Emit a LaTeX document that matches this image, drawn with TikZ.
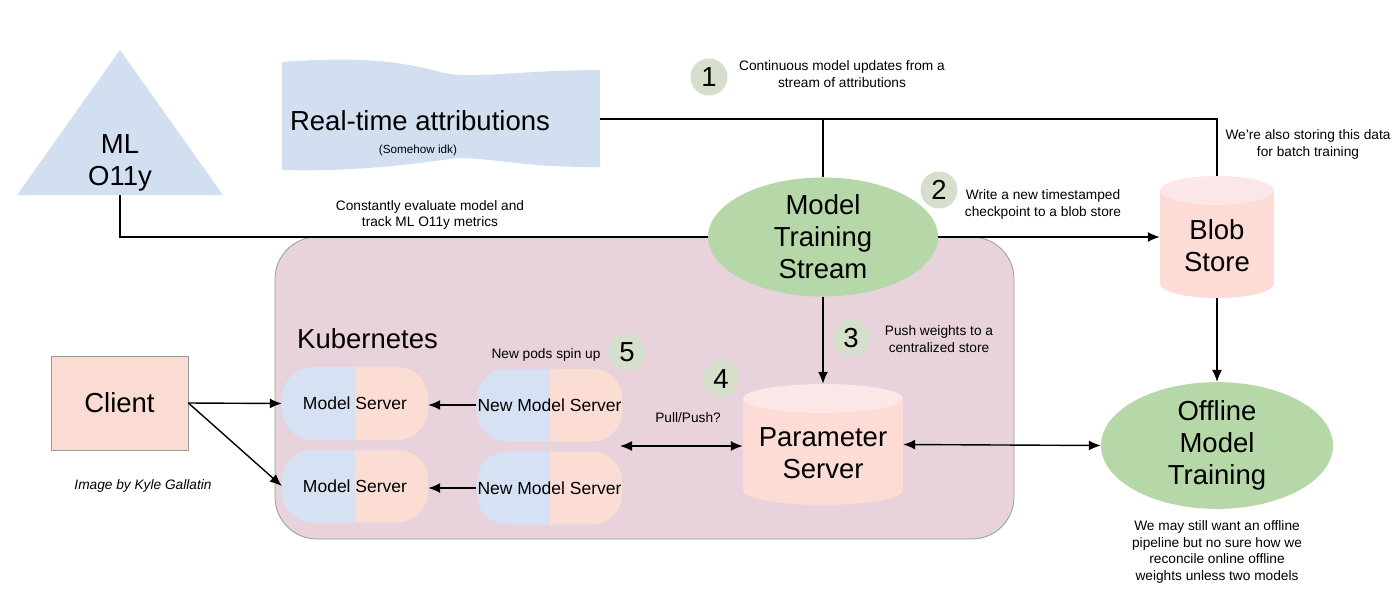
\documentclass[tikz,border=0pt]{standalone}
\usepackage{fontspec}
\setmainfont{Liberation Sans}
\usetikzlibrary{shapes.geometric,arrows.meta}
\definecolor{tapec}{HTML}{D2DFF1}
\definecolor{pblue}{HTML}{D6E2F3}
\definecolor{ppink}{HTML}{FCDDD3}
\definecolor{kfill}{HTML}{E8D2DC}
\definecolor{kborder}{HTML}{8BA77E}
\definecolor{clientf}{HTML}{FADCD3}
\definecolor{clientb}{HTML}{9A9A9A}
\definecolor{cylbody}{HTML}{FCDCD4}
\definecolor{cyltop}{HTML}{FBE7E7}
\definecolor{greenc}{HTML}{B6D7A8}
\definecolor{badgec}{HTML}{D5DFCC}
\begin{document}
\begin{tikzpicture}[x=1pt,y=-1pt,
  bigtxt/.style={font=\fontsize{27.5}{32}\selectfont, align=center, inner sep=0pt},
  smalltxt/.style={font=\fontsize{13.7}{16.5}\selectfont, align=center, inner sep=0pt},
  conn/.style={draw=black, line width=1.4pt},
  arr/.style={conn, -{Latex[length=12pt,width=10pt]}},
  dbl/.style={conn, {Latex[length=12pt,width=10pt]}-{Latex[length=12pt,width=10pt]}},
  badge/.style={circle, fill=badgec, minimum size=37pt, inner sep=0pt, font=\fontsize{27.5}{32}\selectfont},
  pill/.style={rectangle, rounded corners=31pt, minimum width=146pt, minimum height=73pt, inner sep=0pt,
    font=\fontsize{17.5}{20}\selectfont,
    path picture={\fill[pblue, sharp corners] (path picture bounding box.north west) rectangle (path picture bounding box.south);
                  \fill[ppink, sharp corners] (path picture bounding box.north) rectangle (path picture bounding box.south east);}},
  greenell/.style={ellipse, fill=greenc, inner sep=0pt, align=center, font=\fontsize{27.5}{32}\selectfont},
  cylnode/.style={rectangle, inner sep=0pt}
]
\fill[white] (0,0) rectangle (1400,611);
\useasboundingbox (0,0) rectangle (1400,611);

% Kubernetes container
\node[draw=kborder, fill=kfill, rounded corners=42pt, minimum width=739pt, minimum height=302pt, line width=0.8pt, inner sep=0pt] (k8s) at (644.5,388) {};
\node[bigtxt, anchor=west] (k8slabel) at (297,339) {Kubernetes};

% ML O11y triangle
\fill[tapec] (120,50) -- (223,195) -- (17,195) -- cycle;
\node[bigtxt] (ml) at (120,163) {ML\\O11y};
\coordinate (mlb) at (120,195);

% Real-time attributions tape
\fill[tapec] (282,62) .. controls (360,56) and (405,62) .. (440,72) .. controls (470,80) and (520,70) .. (600,70)
  -- (600,167) .. controls (520,168) and (480,155) .. (450,159) .. controls (420,163) and (360,172) .. (282,170) -- cycle;
\node[bigtxt] (rt) at (420,121) {Real-time attributions};
\node[font=\fontsize{11.7}{14}\selectfont, inner sep=0pt] (rtsub) at (418,150) {(Somehow idk)};
\coordinate (tapeR) at (600,119);
\coordinate (j) at (823,119);

% Cylinders
\fill[cylbody] (1160,190.5) rectangle (1274,283.5);
\fill[cylbody] (1217,283.5) ellipse [x radius=57pt, y radius=14.5pt];
\fill[cyltop] (1217,190.5) ellipse [x radius=57pt, y radius=14.5pt];
\node[cylnode, minimum width=114pt, minimum height=122pt] (blob) at (1217,237) {};
\node[bigtxt] (blobt) at (1217,246) {Blob\\Store};

\fill[cylbody] (743,398.5) rectangle (903,490.5);
\fill[cylbody] (823,490.5) ellipse [x radius=80pt, y radius=14.5pt];
\fill[cyltop] (823,398.5) ellipse [x radius=80pt, y radius=14.5pt];
\node[cylnode, minimum width=160pt, minimum height=121pt] (ps) at (823,444.5) {};
\node[bigtxt] (pst) at (823,453) {Parameter\\Server};

% Ellipses
\node[greenell, minimum width=230pt, minimum height=116pt] (mts) at (823,237) {Model\\Training\\Stream};
\node[greenell, minimum width=232pt, minimum height=117pt] (off) at (1217,445.5) {Offline\\Model\\Training};

% Client
\node[draw=clientb, fill=clientf, line width=0.8pt, minimum width=137pt, minimum height=94pt, bigtxt] (client) at (119.5,403) {Client};

% Pills
\node[pill] (ms1) at (355,403.5) {Model Server};
\node[pill] (ms2) at (355,486) {Model Server};
\node[pill] (nms1) at (549.5,405) {New Model Server};
\node[pill] (nms2) at (549.5,488) {New Model Server};
\coordinate (pp) at (620,446);

% Badges
\node[badge] (b1) at (709,77) {1};
\node[badge] (b2) at (939,190) {2};
\node[badge] (b3) at (851,338) {3};
\node[badge] (b4) at (721,379) {4};
\node[badge] (b5) at (627,352) {5};

% Connectors
\draw[conn] (mlb) |- (mts.west);
\draw[conn] (tapeR) -| (blob.north);
\draw[conn] (j) -- (mts.north);
\draw[arr] (mts.east) -- (blob.west);
\draw[arr] (blob.south) -- (off.north);
\draw[arr] (mts.south) -- (ps.north);
\draw[dbl] (ps.east) -- (off.west);
\draw[dbl] (pp) -- (pp -| ps.west);
\draw[arr] (client.east) -- (ms1.west);
\draw[arr] (client.east) -- (ms2.west);
\draw[arr] (nms1.west) -- (nms1.west -| ms1.east);
\draw[arr] (nms2.west) -- (nms2.west -| ms2.east);

% Annotations
\node[smalltxt] (t1) at (842,74) {Continuous model updates from a\\stream of attributions};
\node[smalltxt] (t2) at (1308,144.5) {We’re also storing this data\\for batch training};
\node[smalltxt] (t3) at (1043,204.5) {Write a new timestamped\\checkpoint to a blob store};
\node[smalltxt] (t4) at (430,215) {Constantly evaluate model and\\track ML O11y metrics};
\node[smalltxt] (t5) at (939,339) {Push weights to a\\centralized store};
\node[smalltxt] (t6) at (546,355) {New pods spin up};
\node[smalltxt] (t7) at (688,418) {Pull/Push?};
\node[smalltxt] (t8) at (1217,552) {We may still want an offline\\pipeline but no sure how we\\reconcile online offline\\weights unless two models};
\node[smalltxt, font=\fontsize{13.7}{16.5}\selectfont\itshape] (credit) at (143,486) {Image by Kyle Gallatin};
\end{tikzpicture}
\end{document}
